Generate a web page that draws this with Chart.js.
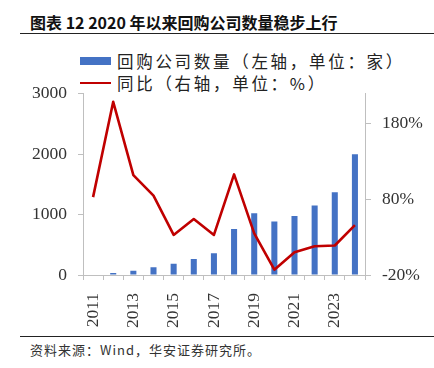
<!DOCTYPE html>
<html>
<head>
<meta charset="utf-8">
<script src="https://cdn.jsdelivr.net/npm/chart.js@4/dist/chart.umd.min.js"></script>
<style>
  html, body { margin: 0; padding: 0; background: #fff; }
  body { width: 434px; height: 368px; position: relative; overflow: hidden; }
  #title { position: absolute; left: 30px; top: 11px; font: bold 16px "Noto Sans CJK SC", sans-serif; color: #111; white-space: nowrap; line-height: 22px; }
  #rule1 { position: absolute; left: 20px; top: 33px; width: 414px; height: 0; border-top: 1.3px solid #222; }
  #rule2 { position: absolute; left: 20px; top: 336px; width: 414px; height: 0; border-top: 1.3px solid #222; }
  #source { position: absolute; left: 30px; top: 341px; font: 13px "Noto Sans CJK SC", sans-serif; letter-spacing: 1px; color: #333; white-space: nowrap; line-height: 18px; }
  .leg { position: absolute; left: 80px; height: 22px; display: flex; align-items: center; font: 16.5px "Noto Sans CJK SC", sans-serif; letter-spacing: 2.7px; color: #222; white-space: nowrap; }
  .sw { width: 31px; margin-right: 6px; }
  #leg1 { top: 50px; }
  #leg2 { top: 72px; }
  #leg1 .sw { height: 8px; background: #4472C4; }
  #leg2 .sw { height: 2.5px; background: #C00000; }
  #c { position: absolute; left: 0; top: 72px; }
</style>
</head>
<body>
<div id="title">图表 12 2020 年以来回购公司数量稳步上行</div>
<div id="rule1"></div>
<div class="leg" id="leg1"><span class="sw"></span><span>回购公司数量（左轴，单位：家）</span></div>
<div class="leg" id="leg2"><span class="sw"></span><span>同比（右轴，单位：%）</span></div>
<canvas id="c" width="434" height="263"></canvas>
<div id="rule2"></div>
<div id="source">资料来源：Wind，华安证券研究所。</div>
<script>
const years = ['2011','2012','2013','2014','2015','2016','2017','2018','2019','2020','2021','2022','2023','2024'];
const companyCount = [10, 35, 70, 130, 185, 265, 360, 760, 1020, 885, 977, 1148, 1368, 1994];
const yoyPct = [83, 209, 112, 85, 33, 54, 33, 113, 35, -13, 10, 18, 19, 46];
const leftTicks = [0, 1000, 2000, 3000];
const rightTicks = [-20, 80, 180];

const axisColor = '#bfbfbf';
const tickFont = { family: '"Liberation Serif", "Times New Roman", serif', size: 17.5 };

new Chart(document.getElementById('c'), {
  data: {
    labels: years,
    datasets: [
      { type: 'line', label: '同比（右轴，单位：%）', data: yoyPct, yAxisID: 'y1',
        borderColor: '#C00000', borderWidth: 2.6, pointRadius: 0, tension: 0,
        borderJoinStyle: 'round', order: 0 },
      { type: 'bar', label: '回购公司数量（左轴，单位：家）', data: companyCount, yAxisID: 'y',
        backgroundColor: '#4472C4', categoryPercentage: 1, barPercentage: 0.3, order: 1 }
    ]
  },
  options: {
    responsive: false,
    devicePixelRatio: 1,
    animation: false,
    layout: { padding: { top: 0, left: 0, right: 0, bottom: 0 } },
    plugins: { legend: { display: false }, tooltip: { enabled: false } },
    scales: {
      x: {
        type: 'category',
        offset: true,
        grid: { display: true, offset: true, drawOnChartArea: false, drawTicks: true, tickLength: 5, color: axisColor },
        border: { display: true, color: axisColor, width: 1 },
        ticks: {
          autoSkip: false, minRotation: 90, maxRotation: 90, padding: 13,
          font: tickFont, color: '#333',
          callback: function(v, i) { return i % 2 === 0 ? this.getLabelForValue(v) : ''; }
        },
        afterFit: s => { s.height = 60; }
      },
      y: {
        position: 'left', min: 0, max: 3000,
        afterBuildTicks: s => { s.ticks = leftTicks.map(v => ({ value: v })); },
        grid: { drawOnChartArea: false, drawTicks: true, tickLength: 5, color: axisColor },
        border: { display: true, color: axisColor, width: 1 },
        ticks: { padding: 11, font: tickFont, color: '#333', callback: v => String(v) },
        afterFit: s => { s.width = 83; }
      },
      y1: {
        position: 'right', min: -20, max: 220,
        afterBuildTicks: s => { s.ticks = rightTicks.map(v => ({ value: v })); },
        grid: { drawOnChartArea: false, drawTicks: true, tickLength: 6, color: axisColor },
        border: { display: true, color: axisColor, width: 1 },
        ticks: { padding: 11, font: tickFont, color: '#333', callback: v => v + '%' },
        afterFit: s => { s.width = 69; }
      }
    }
  }
});
</script>
</body>
</html>
